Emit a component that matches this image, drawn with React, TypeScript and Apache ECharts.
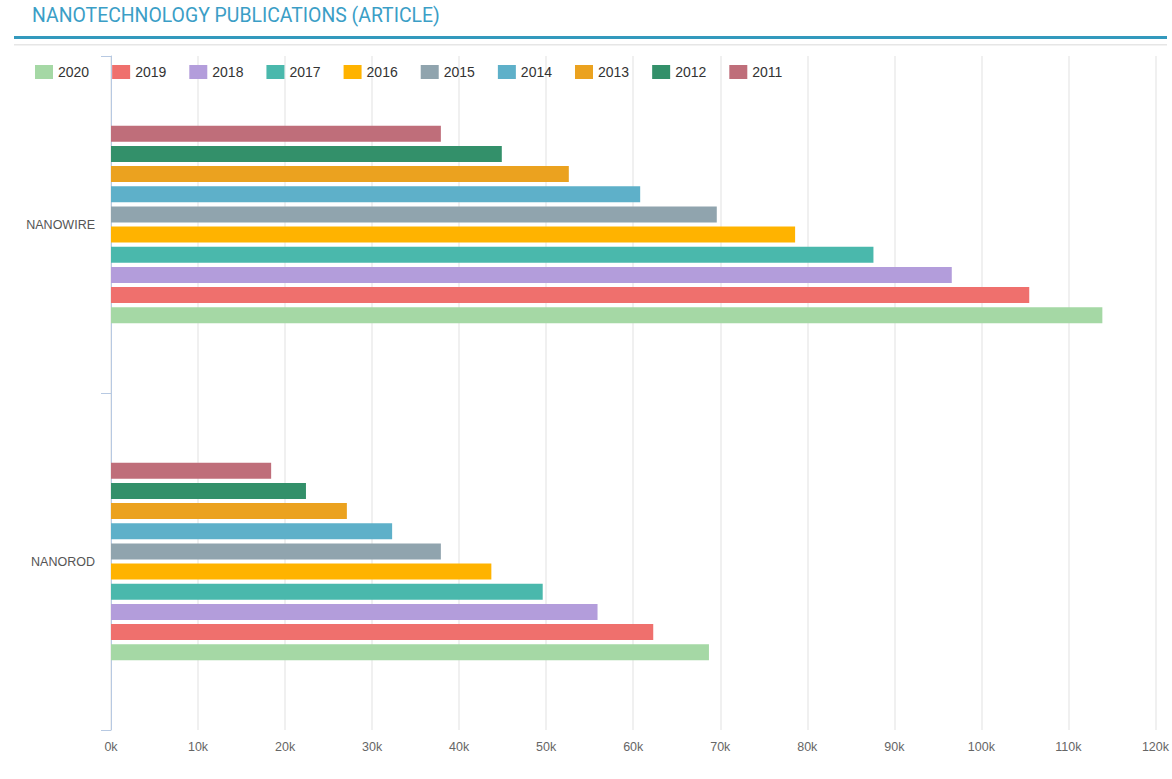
import React, { useEffect, useRef } from "react";
import * as echarts from "echarts";

const categories = ["NANOROD", "NANOWIRE"];
const years = ["2011", "2012", "2013", "2014", "2015", "2016", "2017", "2018", "2019", "2020"];
const legendOrder = ["2020", "2019", "2018", "2017", "2016", "2015", "2014", "2013", "2012", "2011"];
// values per year: [NANOROD, NANOWIRE]
const v2011 = [18400, 37900];
const v2012 = [22400, 44900];
const v2013 = [27100, 52600];
const v2014 = [32300, 60800];
const v2015 = [37900, 69600];
const v2016 = [43700, 78600];
const v2017 = [49600, 87600];
const v2018 = [55900, 96600];
const v2019 = [62300, 105500];
const v2020 = [68700, 113900];
const seriesValues = [v2011, v2012, v2013, v2014, v2015, v2016, v2017, v2018, v2019, v2020];
const colors = ["#bf6e7a", "#33906a", "#eba21f", "#5eb0c9", "#90a4ae", "#ffb300", "#4ab8ac", "#b39ddb", "#ef706d", "#a5d8a5"];
const titleText = "NANOTECHNOLOGY PUBLICATIONS (ARTICLE)";

export default function App() {
  const ref = useRef<HTMLDivElement>(null);
  useEffect(() => {
    if (!ref.current) return;
    const chart = echarts.init(ref.current, null, { renderer: "svg" });
    chart.setOption({
      animation: false,
      backgroundColor: "#ffffff",
      graphic: [
        {
          type: "text",
          left: 32,
          top: 6,
          style: {
            text: titleText,
            fill: "#3b9ec6",
            font: "400 19.4px Roboto",
          },
        },
        {
          type: "rect",
          shape: { x: 14, y: 36, width: 1153, height: 3 },
          style: { fill: "#3399bd" },
        },
        {
          type: "rect",
          shape: { x: 14, y: 44, width: 1153, height: 1.5 },
          style: { fill: "#e6e6e6" },
        },
      ],
      legend: {
        data: legendOrder,
        left: 30,
        top: 60,
        itemWidth: 18,
        itemHeight: 14,
        itemGap: 23,
        icon: "rect",
        textStyle: { fontSize: 14, color: "#333", fontFamily: "Liberation Sans, Arial, sans-serif" },
      },
      grid: { left: 111, right: 16, top: 56, bottom: 49 },
      xAxis: {
        type: "value",
        min: 0,
        max: 120000,
        interval: 10000,
        axisLine: { show: false },
        axisTick: { show: false },
        splitLine: { show: true, lineStyle: { color: "#ebebeb", width: 1.5 } },
        axisLabel: {
          color: "#666",
          fontSize: 12.5,
          margin: 10,
          fontFamily: "Liberation Sans, Arial, sans-serif",
          formatter: (v: number) => v / 1000 + "k",
        },
      },
      yAxis: {
        type: "category",
        data: categories,
        axisLine: { show: true, lineStyle: { color: "#b7c9e2", width: 1 } },
        axisTick: { show: true, length: 10, lineStyle: { color: "#b7c9e2" } },
        axisLabel: {
          color: "#555",
          fontSize: 12.5,
          margin: 16,
          fontFamily: "Liberation Sans, Arial, sans-serif",
        },
      },
      series: years.map((y, i) => ({
        name: y,
        type: "bar",
        data: seriesValues[i],
        barWidth: 16,
        barGap: "26%",
        itemStyle: { color: colors[i] },
      })),
    });
    return () => chart.dispose();
  }, []);
  return <div ref={ref} style={{ width: 1172, height: 779, position: "absolute", left: 0, top: 0 }} />;
}
